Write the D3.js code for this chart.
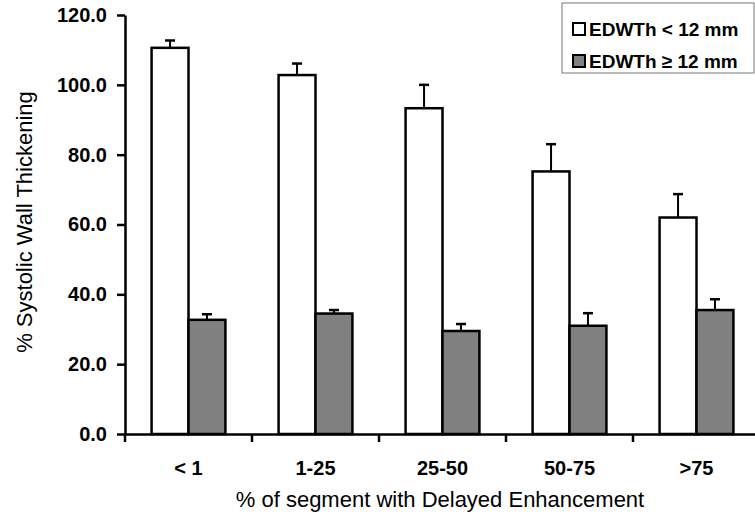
<!DOCTYPE html>
<html>
<head>
<meta charset="utf-8">
<script src="https://cdn.jsdelivr.net/npm/d3@7"></script>
<style>
  body { margin: 0; background: #fff; }
  svg { display: block; font-family: Arial, "Liberation Sans", sans-serif; }
</style>
</head>
<body>
<div id="chart"></div>
<script>
var categories = ['< 1', '1-25', '25-50', '50-75', '>75'];
var seriesNames = ['EDWTh < 12 mm', 'EDWTh \u2265 12 mm'];
var thinMeans = [110.6, 102.8, 93.3, 75.2, 62.0];
var thinErrors = [2.1, 3.3, 6.7, 7.8, 6.7];
var thickMeans = [32.7, 34.5, 29.5, 31.0, 35.5];
var thickErrors = [1.6, 1.0, 2.0, 3.6, 3.1];
var yTicks = [0, 20, 40, 60, 80, 100, 120];
var seriesFill = ['#ffffff', '#808080'];

var width = 755, height = 519;
var plotLeft = 125, plotBottom = 434, plotTop = 15;

var svg = d3.select('#chart')
    .append('svg')
    .attr('width', width)
    .attr('height', height);

var x0 = d3.scaleBand()
    .domain(categories)
    .range([plotLeft, plotLeft + 127 * categories.length]);

var x1 = d3.scaleBand()
    .domain(seriesNames)
    .range([0, x0.bandwidth()])
    .paddingOuter(0.72);

var y = d3.scaleLinear()
    .domain([0, 120])
    .range([plotBottom, plotTop]);

// build rows from the arrays
var rows = [];
categories.forEach(function (c, i) {
    rows.push({ cat: c, series: seriesNames[0], value: thinMeans[i], err: thinErrors[i], fill: seriesFill[0] });
    rows.push({ cat: c, series: seriesNames[1], value: thickMeans[i], err: thickErrors[i], fill: seriesFill[1] });
});

function barMid(d) { return x0(d.cat) + x1(d.series) + x1.bandwidth() / 2; }

// error bars (drawn first so the bar outline sits on top)
var errG = svg.append('g');
errG.selectAll('line.stem')
    .data(rows).enter()
    .append('line')
    .attr('x1', barMid)
    .attr('x2', barMid)
    .attr('y1', function (d) { return y(d.value); })
    .attr('y2', function (d) { return y(d.value + d.err); })
    .attr('stroke', '#000')
    .attr('stroke-width', 2);
errG.selectAll('line.cap')
    .data(rows).enter()
    .append('line')
    .attr('x1', function (d) { return barMid(d) - 5; })
    .attr('x2', function (d) { return barMid(d) + 5; })
    .attr('y1', function (d) { return y(d.value + d.err); })
    .attr('y2', function (d) { return y(d.value + d.err); })
    .attr('stroke', '#000')
    .attr('stroke-width', 2.5);

// bars
svg.append('g').selectAll('rect')
    .data(rows).enter()
    .append('rect')
    .attr('x', function (d) { return x0(d.cat) + x1(d.series); })
    .attr('y', function (d) { return y(d.value); })
    .attr('width', x1.bandwidth())
    .attr('height', function (d) { return plotBottom - y(d.value); })
    .attr('fill', function (d) { return d.fill; })
    .attr('stroke', '#000')
    .attr('stroke-width', 2.5);

// y axis
var yAxis = svg.append('g')
    .attr('transform', 'translate(' + plotLeft + ',0)')
    .call(d3.axisLeft(y).tickValues(yTicks).tickFormat(d3.format('.1f')).tickSize(8).tickSizeOuter(0));
yAxis.select('.domain').attr('stroke-width', 2.5);
yAxis.selectAll('.tick line').attr('stroke-width', 2.5);
yAxis.selectAll('.tick text')
    .attr('x', -18)
    .style('font-size', '20px')
    .style('font-weight', 'bold')
    .attr('fill', '#000');

// x axis
var xAxis = svg.append('g')
    .attr('transform', 'translate(0,' + plotBottom + ')')
    .call(d3.axisBottom(x0).tickSize(0).tickSizeOuter(0));
xAxis.select('.domain').attr('stroke-width', 2.5);
xAxis.selectAll('.tick text')
    .attr('y', 27)
    .style('font-size', '20px')
    .style('font-weight', 'bold')
    .attr('fill', '#000');
// tick marks at category boundaries
svg.append('g').selectAll('line')
    .data(categories).enter()
    .append('line')
    .attr('x1', function (d) { return x0(d); })
    .attr('x2', function (d) { return x0(d); })
    .attr('y1', plotBottom)
    .attr('y2', plotBottom + 8)
    .attr('stroke', '#000')
    .attr('stroke-width', 2.5);

// axis titles
svg.append('text')
    .attr('x', 440)
    .attr('y', 507)
    .attr('text-anchor', 'middle')
    .style('font-size', '22px')
    .text('% of segment with Delayed Enhancement');

svg.append('text')
    .attr('transform', 'translate(32,222) rotate(-90)')
    .attr('text-anchor', 'middle')
    .style('font-size', '22px')
    .text('% Systolic Wall Thickening');

// legend
var legend = svg.append('g');
legend.append('rect')
    .attr('x', 562)
    .attr('y', 3)
    .attr('width', 192)
    .attr('height', 70)
    .attr('fill', '#fff')
    .attr('stroke', '#777')
    .attr('stroke-width', 1);
var items = legend.selectAll('g.item')
    .data(seriesNames).enter()
    .append('g')
    .attr('transform', function (d, i) { return 'translate(573,' + (29 + i * 32) + ')'; });
items.append('rect')
    .attr('x', 0)
    .attr('y', -6)
    .attr('width', 12)
    .attr('height', 12)
    .attr('fill', function (d, i) { return seriesFill[i]; })
    .attr('stroke', '#000')
    .attr('stroke-width', 2);
items.append('text')
    .attr('x', 16)
    .attr('y', 7)
    .style('font-size', '19px')
    .style('font-weight', 'bold')
    .text(function (d) { return d; });
</script>
</body>
</html>
